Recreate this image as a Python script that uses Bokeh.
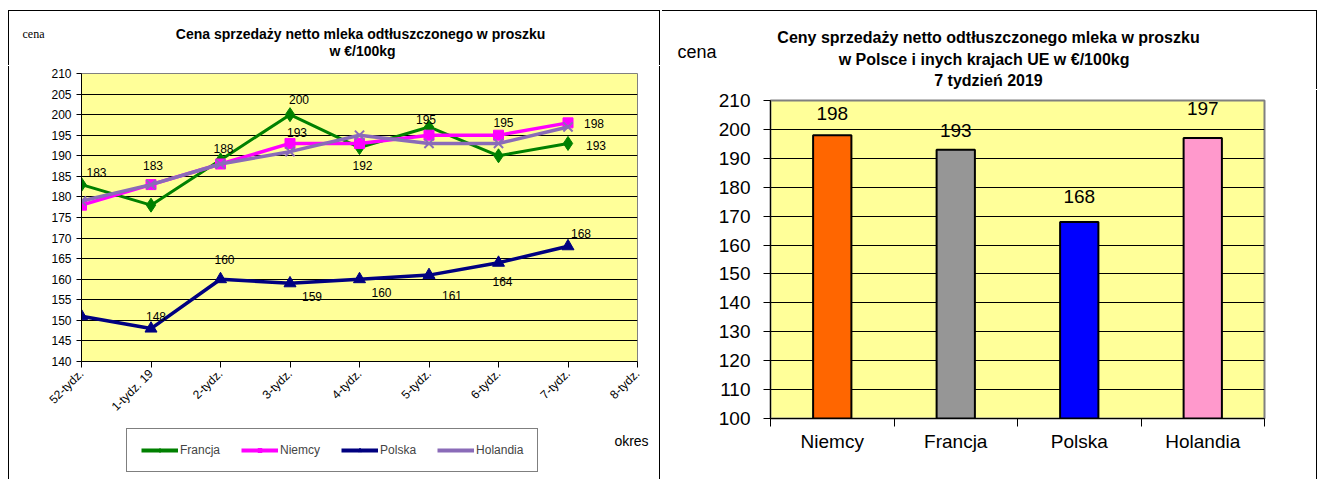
import math
from bokeh.plotting import figure
from bokeh.models import Range1d, FixedTicker, Label, Legend, LegendItem, ColumnDataSource
from bokeh.embed import file_html
from bokeh.resources import INLINE
from bokeh.core.properties import value

# ---------------- data ----------------
weeks = ["52-tydz.", "1-tydz. 19", "2-tydz.", "3-tydz.", "4-tydz.",
         "5-tydz.", "6-tydz.", "7-tydz.", "8-tydz."]
francja = [183, 178, 189, 200, 192, 197, 190, 193]
niemcy = [178, 183, 188, 193, 193, 195, 195, 198]
polska = [151, 148, 160, 159, 160, 161, 164, 168]
holandia = [179, 183, 188, 191, 195, 193, 193, 197]
left_yticks = [140, 145, 150, 155, 160, 165, 170, 175, 180, 185, 190, 195, 200, 205, 210]

countries = ["Niemcy", "Francja", "Polska", "Holandia"]
week7_prices = [198, 193, 168, 197]
right_yticks = [100, 110, 120, 130, 140, 150, 160, 170, 180, 190, 200, 210]

# ---------------- styles ----------------
FONT = "Liberation Sans"
BORDER = "1px solid black"
series = {
    "Francja": dict(vals=francja, color="#008000", marker="diamond", size=14, lw=1, w=3),
    "Niemcy": dict(vals=niemcy, color="#FF00FF", marker="square", size=10, lw=1, w=3.5),
    "Polska": dict(vals=polska, color="#000080", marker="triangle", size=12, lw=1, w=3.5),
    "Holandia": dict(vals=holandia, color="#8A6BB8", marker="x", size=13, lw=2, w=3.5),
}
# (series, index, dx, dy) placement of data labels
label_places = [
    ("Francja", 0, 15, -12), ("Francja", 3, 9, -15), ("Francja", 4, 3, 18), ("Francja", 7, 28, 2),
    ("Niemcy", 1, 2, -19), ("Niemcy", 2, 3, -16), ("Niemcy", 3, 7, -11), ("Niemcy", 5, -3, -16),
    ("Niemcy", 6, 5, -13), ("Niemcy", 7, 26, 1),
    ("Polska", 1, 5, -12), ("Polska", 2, 4, -20), ("Polska", 3, 22, 13), ("Polska", 4, 22, 13),
    ("Polska", 5, 23, 20), ("Polska", 6, 4, 19), ("Polska", 7, 13, -13),
]
bar_colors = ["#FF6600", "#969696", "#0000FF", "#FF99CC"]
bar_label_dy = [-22, -19, -25, -30]


def place(fig, px, py, sides):
    st = {"position": "absolute", "left": f"{px}px", "top": f"{py}px"}
    for side in sides:
        st[f"border-{side}"] = BORDER
    fig.styles = st


def text_fig(w, h):
    # a figure whose frame is the whole canvas, data units = pixels (y downwards)
    return figure(width=w, height=h, output_backend="svg", toolbar_location=None, title=None,
                  x_range=Range1d(0, w), y_range=Range1d(h, 0),
                  x_axis_type=None, y_axis_type=None, min_border=0,
                  background_fill_color="white", border_fill_color="white",
                  outline_line_color=None)


def lbl(p, text, x, y, size, bold=False, align="center", font=FONT):
    p.add_layout(Label(x=x, y=y, text=text, text_font=font, text_font_size=size,
                       text_font_style="bold" if bold else "normal",
                       text_align=align, text_baseline="middle", text_color="black"))


# ================= left panel =================
LW = 652
# header (page y 11..65)
h1 = text_fig(LW, 55)
place(h1, 8, 10, ["top", "left", "right"])
lbl(h1, "Cena sprzedaży netto mleka  odtłuszczonego w proszku", 353, 22, "14px", bold=True)
lbl(h1, "w €/100kg", 353, 39, "14px", bold=True)
lbl(h1, "cena", 13, 22, "12px", align="left", font="Liberation Serif")

# chart (page y 66..424)
p1 = figure(width=LW, height=359, output_backend="svg", toolbar_location=None, title=None,
            x_range=Range1d(0, len(weeks) - 1), y_range=Range1d(left_yticks[0], left_yticks[-1]),
            min_border_left=72, min_border_right=24, min_border_top=7, min_border_bottom=64,
            background_fill_color="#FFFF99", border_fill_color="white",
            outline_line_color="#808080", outline_line_width=1)
place(p1, 8, 66, ["left", "right"])

p1.xaxis.ticker = FixedTicker(ticks=list(range(len(weeks))))
p1.xaxis.major_label_overrides = {i: w for i, w in enumerate(weeks)}
p1.xaxis.major_label_orientation = math.pi / 4
p1.xaxis.major_tick_out = 6
p1.xaxis.major_tick_in = 0
p1.xaxis.minor_tick_line_color = None
p1.xaxis.major_label_standoff = 4
p1.yaxis.ticker = FixedTicker(ticks=left_yticks)
p1.yaxis.major_tick_out = 5
p1.yaxis.major_tick_in = 0
p1.yaxis.minor_tick_line_color = None
p1.yaxis.major_label_standoff = 5
for ax in (p1.xaxis, p1.yaxis):
    ax.axis_line_color = "black"
    ax.major_tick_line_color = "black"
    ax.major_label_text_font = FONT
    ax.major_label_text_font_size = "12px"
    ax.major_label_text_color = "black"
p1.xgrid.visible = False
p1.ygrid.grid_line_color = "black"
p1.ygrid.grid_line_width = 1

for name, s in series.items():
    xs = list(range(len(s["vals"])))
    p1.line(xs, s["vals"], line_color=s["color"], line_width=s["w"])
    p1.scatter(xs, s["vals"], marker=s["marker"], size=s["size"],
               fill_color=s["color"], line_color=s["color"], line_width=s["lw"])

lab = dict(x=[], y=[], text=[], dx=[], dy=[])
for name, i, dx, dy in label_places:
    v = series[name]["vals"][i]
    lab["x"].append(i)
    lab["y"].append(v)
    lab["text"].append(str(v))
    lab["dx"].append(dx)
    lab["dy"].append(dy)
p1.text(x="x", y="y", text="text", x_offset="dx", y_offset="dy", source=ColumnDataSource(lab),
        text_font=value(FONT), text_font_size="12px", text_align="center", text_baseline="middle",
        text_color="black")

# legend strip (page y 425..478)
lg = text_fig(LW, 54)
place(lg, 8, 425, ["left", "right"])
lg.extra_x_ranges = {"hidden": Range1d(-100, -99)}
items = []
for name, s in series.items():
    xs = list(range(len(s["vals"])))
    lr = lg.line(xs, s["vals"], line_color=s["color"], line_width=4, x_range_name="hidden")
    sr = lg.scatter(xs, s["vals"], marker=s["marker"], size=6, fill_color=s["color"],
                    line_color=s["color"], x_range_name="hidden")
    items.append(LegendItem(label=name, renderers=[lr, sr]))
legend = Legend(items=items, orientation="horizontal", location=(117, 7),
                label_text_font=FONT, label_text_font_size="12px", label_height=14,
                glyph_width=37, glyph_height=10, label_standoff=2, spacing=21, padding=14,
                margin=0, border_line_color="black", border_line_width=1,
                background_fill_color="white", background_fill_alpha=1)
lg.add_layout(legend, "center")
lbl(lg, "okres", 622, 15, "14px")

# ================= right panel =================
RW = 655
h2 = text_fig(RW, 79)
place(h2, 662, 10, ["top", "right"])
lbl(h2, "Ceny sprzedaży netto odtłuszczonego mleka w proszku", 326, 26, "16px", bold=True)
lbl(h2, "w Polsce i inych  krajach  UE w €/100kg", 326, 48, "16px", bold=True)
lbl(h2, "7 tydzień 2019", 326, 69, "16px", bold=True)
lbl(h2, "cena", 15, 40, "18px", align="left")

p2 = figure(width=RW, height=389, output_backend="svg", toolbar_location=None, title=None,
            x_range=Range1d(0, len(countries)), y_range=Range1d(right_yticks[0], right_yticks[-1]),
            min_border_left=108, min_border_right=53, min_border_top=10, min_border_bottom=61,
            background_fill_color="#FFFF99", border_fill_color="white",
            outline_line_color="#808080", outline_line_width=2)
place(p2, 662, 90, ["right"])

bx = [i + 0.5 for i in range(len(countries))]
p2.vbar(x=bx, top=week7_prices, bottom=right_yticks[0], width=0.31,
        fill_color=bar_colors, line_color="black", line_width=2)
p2.text(x=bx, y=week7_prices, text=[str(v) for v in week7_prices], y_offset=bar_label_dy,
        text_font=value(FONT), text_font_size="19px", text_align="center", text_baseline="middle",
        text_color="black")

p2.xaxis.ticker = FixedTicker(ticks=bx, minor_ticks=list(range(len(countries) + 1)))
p2.xaxis.major_label_overrides = {x: c for x, c in zip(bx, countries)}
p2.xaxis.major_tick_out = 0
p2.xaxis.major_tick_in = 0
p2.xaxis.minor_tick_out = 8
p2.xaxis.minor_tick_in = 0
p2.xaxis.minor_tick_line_color = "black"
p2.xaxis.minor_tick_line_width = 1
p2.xaxis.major_label_standoff = 4
p2.yaxis.ticker = FixedTicker(ticks=right_yticks)
p2.yaxis.major_tick_out = 7
p2.yaxis.major_tick_in = 0
p2.yaxis.minor_tick_line_color = None
p2.yaxis.major_label_standoff = 13
for ax in (p2.xaxis, p2.yaxis):
    ax.axis_line_color = "black"
    ax.major_tick_line_color = "black"
    ax.major_label_text_font = FONT
    ax.major_label_text_font_size = "19px"
    ax.major_label_text_color = "black"
p2.xgrid.visible = False
p2.ygrid.grid_line_color = "black"
p2.ygrid.grid_line_width = 1

open("out.html", "w").write(file_html([h1, p1, lg, h2, p2], INLINE, title="Ceny mleka w proszku"))
